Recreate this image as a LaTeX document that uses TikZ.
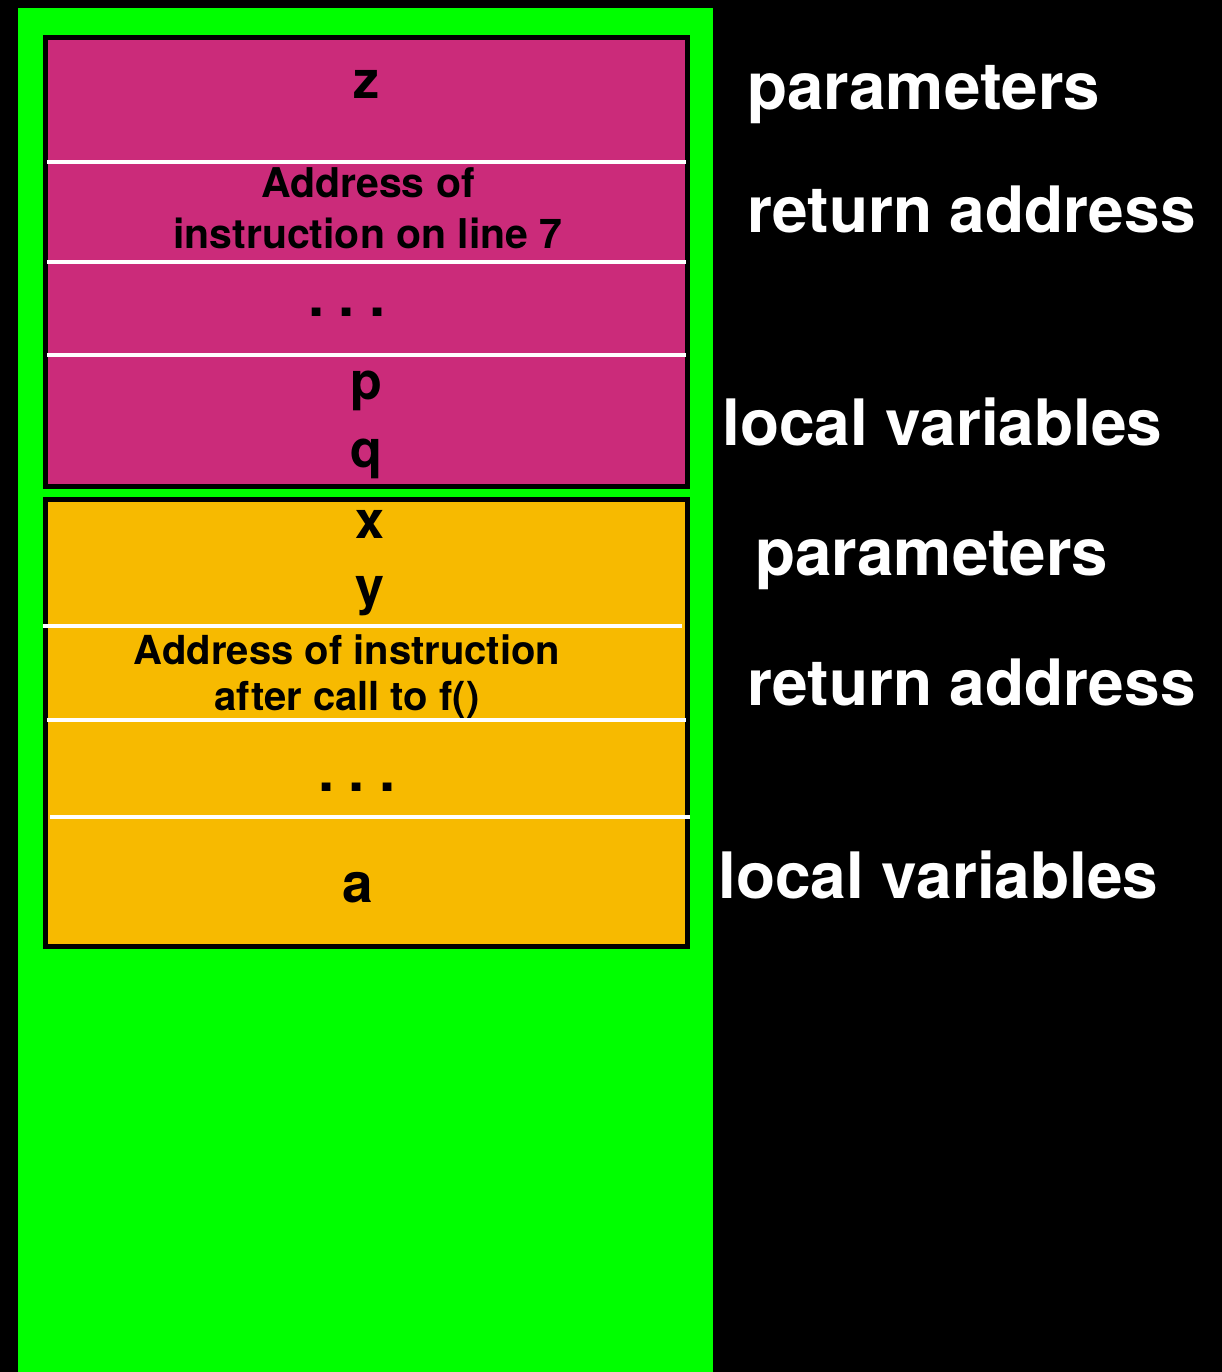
\documentclass[tikz,border=0pt]{standalone}
\usepackage{fontspec}
\setmainfont{TeX Gyre Heros}
\newcommand{\stackdots}{.\hspace{14pt}.\hspace{14pt}.}
\begin{document}
\begin{tikzpicture}[x=1pt,y=-1pt,
  framebox/.style={draw=black,line width=5pt},
  divider/.style={draw=white,line width=4pt},
  slot/.style={inner sep=0pt,anchor=base,text=black,font=\fontsize{52}{52}\selectfont\bfseries},
  slotsmall/.style={inner sep=0pt,anchor=base,text=black,font=\fontsize{41}{41}\selectfont\bfseries},
  dotslot/.style={inner sep=0pt,anchor=base,text=black,font=\fontsize{58}{58}\selectfont\bfseries},
  tag/.style={inner sep=0pt,anchor=base west,text=white,font=\fontsize{64}{64}\selectfont\bfseries}]
  \definecolor{stackgreen}{RGB}{0,255,0}
  \definecolor{framemagenta}{RGB}{203,43,122}
  \definecolor{frameorange}{RGB}{247,186,0}

  % page background and the stack area
  \fill[black] (0,0) rectangle (1222,1372);
  \useasboundingbox (0,0) rectangle (1222,1372);
  \fill[stackgreen] (18,8) rectangle (713,1372);

  % upper stack frame
  \filldraw[framebox,fill=framemagenta] (45.5,37.5) rectangle (687.5,486.5);
  \draw[divider] (47,162.5) -- (686,162.5);
  \draw[divider] (47,262) -- (686,262);
  \draw[divider] (47,355) -- (686,355);

  % lower stack frame
  \filldraw[framebox,fill=frameorange] (45.5,499.5) rectangle (687.5,946.5);
  \draw[divider] (43,625.5) -- (682,625.5);
  \draw[divider] (47,720) -- (686,720);
  \draw[divider] (50,816.5) -- (690,816.5);

  % contents of the upper frame
  \node[slot] (z) at (366,99) {z};
  \node[slotsmall] (ret1a) at (368,198) {Address of};
  \node[slotsmall] (ret1b) at (368,248) {instruction on line 7};
  \node[dotslot] (dots1) at (347,316) {\stackdots};
  \node[slot] (p) at (366,399) {p};
  \node[slot] (q) at (366,467) {q};

  % contents of the lower frame
  \node[slot] (x) at (370,538) {x};
  \node[slot] (y) at (370,604) {y};
  \node[slotsmall,font=\fontsize{40}{40}\selectfont\bfseries] (ret2a) at (347,664) {Address of instruction};
  \node[slotsmall,font=\fontsize{40}{40}\selectfont\bfseries] (ret2b) at (347,710) {after call to f()};
  \node[dotslot] (dots2) at (357,791) {\stackdots};
  \node[slot,font=\fontsize{55}{55}\selectfont\bfseries] (a) at (358,902) {a};

  % labels beside the frames
  \node[tag,font=\fontsize{65.5}{65.5}\selectfont\bfseries] (par1) at (747,110) {parameters};
  \node[tag] (ra1) at (747,233) {return address};
  \node[tag] (lv1) at (722,445) {local variables};
  \node[tag,font=\fontsize{65.5}{65.5}\selectfont\bfseries] (par2) at (755,575) {parameters};
  \node[tag] (ra2) at (747,705) {return address};
  \node[tag] (lv2) at (718,898) {local variables};
\end{tikzpicture}
\end{document}
